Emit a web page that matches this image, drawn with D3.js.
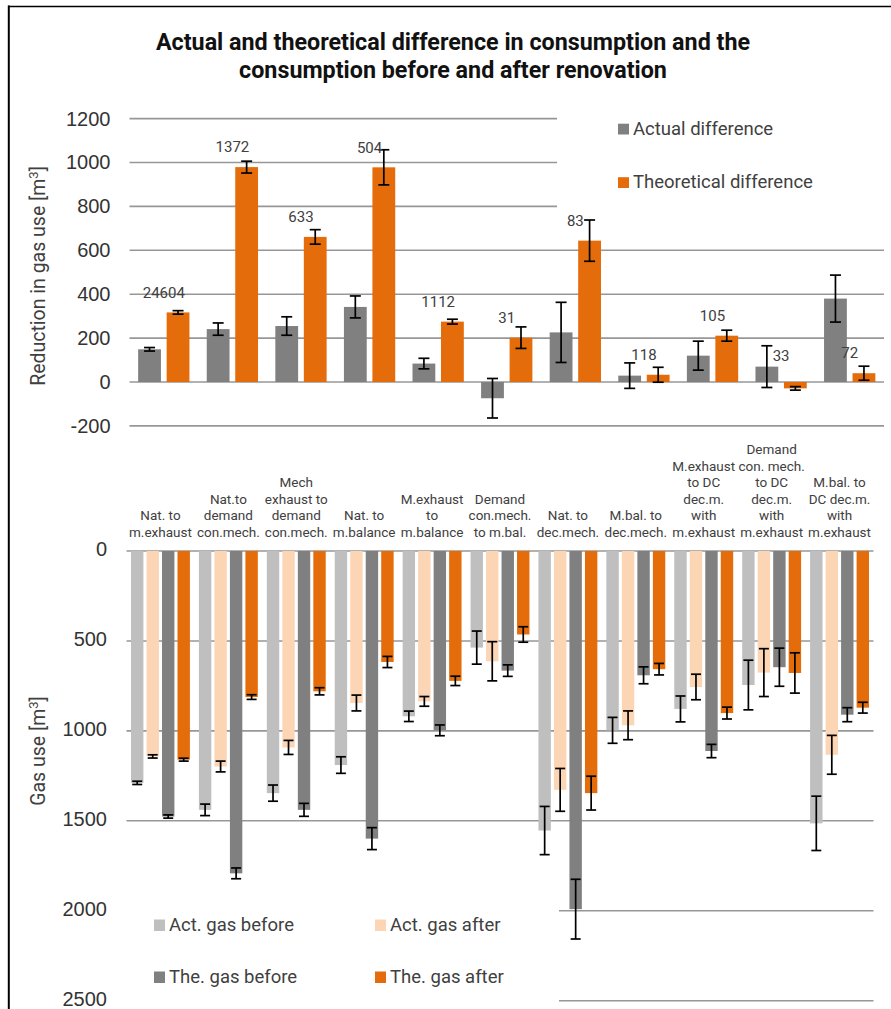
<!DOCTYPE html>
<html>
<head>
<meta charset="utf-8">
<script src="https://cdn.jsdelivr.net/npm/d3@7"></script>
<style>
  html, body { margin: 0; padding: 0; background: #fff; }
  svg { display: block; font-family: Roboto, "Noto Sans", "DejaVu Sans", sans-serif; }
</style>
</head>
<body>
<svg id="chart" width="891" height="1009"></svg>
<script>
// ---- data ----
const categories = [
  ["Nat. to", "m.exhaust"],
  ["Nat.to", "demand", "con.mech."],
  ["Mech", "exhaust to", "demand", "con.mech."],
  ["Nat. to", "m.balance"],
  ["M.exhaust", "to", "m.balance"],
  ["Demand", "con.mech.", "to m.bal."],
  ["Nat. to", "dec.mech."],
  ["M.bal. to", "dec.mech."],
  ["M.exhaust", "to DC", "dec.m.", "with", "m.exhaust"],
  ["Demand", "con. mech.", "to DC", "dec.m.", "with", "m.exhaust"],
  ["M.bal. to", "DC dec.m.", "with", "m.exhaust"]
];
const countLabels = ["24604", "1372", "633", "504", "1112", "31", "83", "118", "105", "33", "72"];

// reduction in gas use [m3]
const actualDiff    = [149, 241, 255, 342, 84, -74, 226, 29, 120, 70, 380];
const actualDiffErr = [8, 28, 42, 50, 24, 90, 137, 58, 66, 95, 107];
const theoDiff      = [317, 979, 661, 978, 275, 202, 644, 33, 211, -29, 40];
const theoDiffErr   = [8, 27, 33, 80, 11, 49, 94, 34, 25, 8, 32];

// gas use before / after renovation [m3]
const actBefore    = [1289, 1439, 1346, 1190, 919, 537, 1554, 997, 878, 745, 1514];
const actBeforeErr = [9, 32, 45, 46, 29, 92, 134, 72, 72, 138, 151];
const actAfter     = [1142, 1198, 1092, 845, 836, 613, 1328, 969, 756, 676, 1133];
const actAfterErr  = [9, 30, 39, 44, 27, 109, 119, 80, 71, 133, 108];
const theBefore    = [1476, 1792, 1439, 1599, 997, 665, 1991, 691, 1112, 646, 910];
const theBeforeErr = [9, 30, 36, 61, 30, 32, 166, 47, 37, 106, 39];
const theAfter     = [1160, 812, 780, 617, 722, 464, 1346, 657, 901, 678, 871];
const theAfterErr  = [8, 13, 20, 31, 26, 43, 94, 32, 33, 112, 30];

const diffTicks = [-200, 0, 200, 400, 600, 800, 1000, 1200];
const useTicks  = [0, 500, 1000, 1500, 2000, 2500];

const diffSeriesNames = ["Actual difference", "Theoretical difference"];
const useSeriesNames  = ["Act. gas before", "Act. gas after", "The. gas before", "The. gas after"];

// ---- styling ----
const C = {
  grey: "#808080", orange: "#E46C0A", lightGrey: "#BFBFBF", peach: "#FCD5B5",
  grid: "#979797", text: "#404040", err: "#000"
};
const diffColors = [C.grey, C.orange];
const useColors  = [C.lightGrey, C.peach, C.grey, C.orange];
const plainInt = d => String(d);   // plain hyphen for negatives

const svg = d3.select("#chart");
const W = 891, H = 1009;

// frame
svg.append("line").attr("x1", 8.8).attr("x2", 8.8).attr("y1", 5.5).attr("y2", H)
  .attr("stroke", "#000").attr("stroke-width", 2);
svg.append("line").attr("x1", 8).attr("x2", W).attr("y1", 6.5).attr("y2", 6.5)
  .attr("stroke", "#000").attr("stroke-width", 1.4);

// title
const title = svg.append("text").attr("text-anchor", "middle")
  .attr("font-size", 23.3).attr("font-weight", 700).attr("fill", "#111");
title.append("tspan").attr("x", 453).attr("y", 50)
  .text("Actual and theoretical difference in consumption and the");
title.append("tspan").attr("x", 453).attr("y", 77.5)
  .text("consumption before and after renovation");

// ---------- upper chart: differences ----------
const idx = d3.range(categories.length);
const xTop = d3.scaleBand().domain(idx).range([129.5, 884]).paddingInner(0.169).paddingOuter(0.0845);
const xTopInner = d3.scaleBand().domain([0, 1]).range([0, xTop.bandwidth()]).paddingInner(0.2).paddingOuter(0.1);
const yTop = d3.scaleLinear().domain([-200, 1200]).range([425.9, 118.6]);

const topLegendGapX = 557;
svg.append("g").selectAll("line").data(diffTicks).join("line")
  .attr("x1", 129.5)
  .attr("x2", d => d >= 800 ? topLegendGapX : 884)
  .attr("y1", d => yTop(d)).attr("y2", d => yTop(d))
  .attr("stroke", C.grid).attr("stroke-width", 1.6);

const axTop = svg.append("g").attr("transform", "translate(129.5,0)")
  .call(d3.axisLeft(yTop).tickValues(diffTicks).tickSize(0).tickPadding(19).tickFormat(plainInt));
axTop.select(".domain").remove();
axTop.selectAll("text").attr("font-size", 20).attr("fill", "#333").attr("font-family", null);

const diffData = idx.map(i => [
  { i, s: 0, v: actualDiff[i], e: actualDiffErr[i] },
  { i, s: 1, v: theoDiff[i], e: theoDiffErr[i] }
]);

const gTop = svg.append("g").selectAll("g").data(diffData).join("g")
  .attr("transform", (d, i) => `translate(${xTop(i)},0)`);
gTop.selectAll("rect").data(d => d).join("rect")
  .attr("x", d => xTopInner(d.s)).attr("width", xTopInner.bandwidth())
  .attr("y", d => yTop(Math.max(d.v, 0)))
  .attr("height", d => Math.abs(yTop(d.v) - yTop(0)))
  .attr("fill", d => diffColors[d.s]);

function errorBars(sel, xInner, y, cap) {
  const eb = sel.selectAll("g.eb").data(d => d).join("g").attr("class", "eb")
    .attr("stroke", C.err).attr("stroke-width", 1.7);
  const cx = d => xInner(d.s) + xInner.bandwidth() / 2;
  eb.append("line").attr("x1", cx).attr("x2", cx)
    .attr("y1", d => y(d.v - d.e)).attr("y2", d => y(d.v + d.e));
  eb.append("line").attr("x1", d => cx(d) - cap).attr("x2", d => cx(d) + cap)
    .attr("y1", d => y(d.v - d.e)).attr("y2", d => y(d.v - d.e));
  eb.append("line").attr("x1", d => cx(d) - cap).attr("x2", d => cx(d) + cap)
    .attr("y1", d => y(d.v + d.e)).attr("y2", d => y(d.v + d.e));
}
errorBars(gTop, xTopInner, yTop, 5.5);

// number of dwellings per renovation type
svg.append("g").selectAll("text").data(idx).join("text")
  .attr("x", i => xTop(i) + xTop.bandwidth() / 2)
  .attr("y", i => yTop(Math.abs(theoDiff[i])) - 20)
  .attr("dy", "0.35em")
  .attr("text-anchor", "middle").attr("font-size", 15).attr("fill", C.text)
  .text(i => countLabels[i]);

// y title
const t1 = svg.append("text").attr("transform", "translate(45,276) rotate(-90)")
  .attr("text-anchor", "middle").attr("font-size", 19.5).attr("fill", C.text);
t1.append("tspan").text("Reduction in gas use [m");
t1.append("tspan").attr("baseline-shift", "super").attr("font-size", 13).text("3");
t1.append("tspan").text("]");

// legend
const lgTop = svg.append("g").selectAll("g").data(diffSeriesNames).join("g")
  .attr("transform", (d, i) => `translate(618,${134.5 + i * 53.5})`);
lgTop.append("rect").attr("x", 0).attr("y", -10.8).attr("width", 11).attr("height", 10.8)
  .attr("fill", (d, i) => diffColors[i]);
lgTop.append("text").attr("x", 15).attr("y", 0).attr("font-size", 18.5).attr("fill", C.text).text(d => d);

// ---------- lower chart: gas use ----------
const xBot = d3.scaleBand().domain(idx).range([126.5, 873.5]).paddingInner(0.087).paddingOuter(0.0435);
const xBotInner = d3.scaleBand().domain([0, 1, 2, 3]).range([0, xBot.bandwidth()]).paddingInner(0.2).paddingOuter(0.1);
const yBot = d3.scaleLinear().domain([0, 2500]).range([551, 1000.7]);

const botLegendGapX = 559;
svg.append("g").selectAll("line").data(useTicks).join("line")
  .attr("x1", d => d >= 2000 ? botLegendGapX : 126.5)
  .attr("x2", 873.5)
  .attr("y1", d => yBot(d)).attr("y2", d => yBot(d))
  .attr("stroke", C.grid).attr("stroke-width", 1.6);

const axBot = svg.append("g").attr("transform", "translate(126.5,0)")
  .call(d3.axisLeft(yBot).tickValues(useTicks).tickSize(0).tickPadding(19.5).tickFormat(plainInt));
axBot.select(".domain").remove();
axBot.selectAll("text").attr("font-size", 20).attr("fill", "#333").attr("font-family", null)
  .attr("dy", "0.22em");

const useData = idx.map(i => [
  { i, s: 0, v: actBefore[i], e: actBeforeErr[i] },
  { i, s: 1, v: actAfter[i], e: actAfterErr[i] },
  { i, s: 2, v: theBefore[i], e: theBeforeErr[i] },
  { i, s: 3, v: theAfter[i], e: theAfterErr[i] }
]);

const gBot = svg.append("g").selectAll("g").data(useData).join("g")
  .attr("transform", (d, i) => `translate(${xBot(i)},0)`);
gBot.selectAll("rect").data(d => d).join("rect")
  .attr("x", d => xBotInner(d.s)).attr("width", xBotInner.bandwidth())
  .attr("y", yBot(0))
  .attr("height", d => yBot(d.v) - yBot(0))
  .attr("fill", d => useColors[d.s]);
errorBars(gBot, xBotInner, yBot, 5);

// category labels
const catG = svg.append("g").selectAll("text").data(idx).join("text")
  .attr("text-anchor", "middle").attr("font-size", 13.5).attr("fill", C.text);
catG.each(function (i) {
  const lines = categories[i];
  const n = lines.length;
  d3.select(this).selectAll("tspan").data(lines).join("tspan")
    .attr("x", xBot(i) + xBot.bandwidth() / 2)
    .attr("y", (d, k) => 537 - (n - 1 - k) * 16.6)
    .text(d => d);
});

// y title
const t2 = svg.append("text").attr("transform", "translate(45,751) rotate(-90)")
  .attr("text-anchor", "middle").attr("font-size", 19.5).attr("fill", C.text);
t2.append("tspan").text("Gas use [m");
t2.append("tspan").attr("baseline-shift", "super").attr("font-size", 13).text("3");
t2.append("tspan").text("]");

// legend
const lgBot = svg.append("g").selectAll("g").data(useSeriesNames).join("g")
  .attr("transform", (d, i) => `translate(${i % 2 === 0 ? 154 : 375},${931 + Math.floor(i / 2) * 52})`);
lgBot.append("rect").attr("x", 0).attr("y", -11.5).attr("width", 11).attr("height", 11.5)
  .attr("fill", (d, i) => useColors[i]);
lgBot.append("text").attr("x", 15).attr("y", 0).attr("font-size", 18.5).attr("fill", C.text).text(d => d);
</script>
</body>
</html>
